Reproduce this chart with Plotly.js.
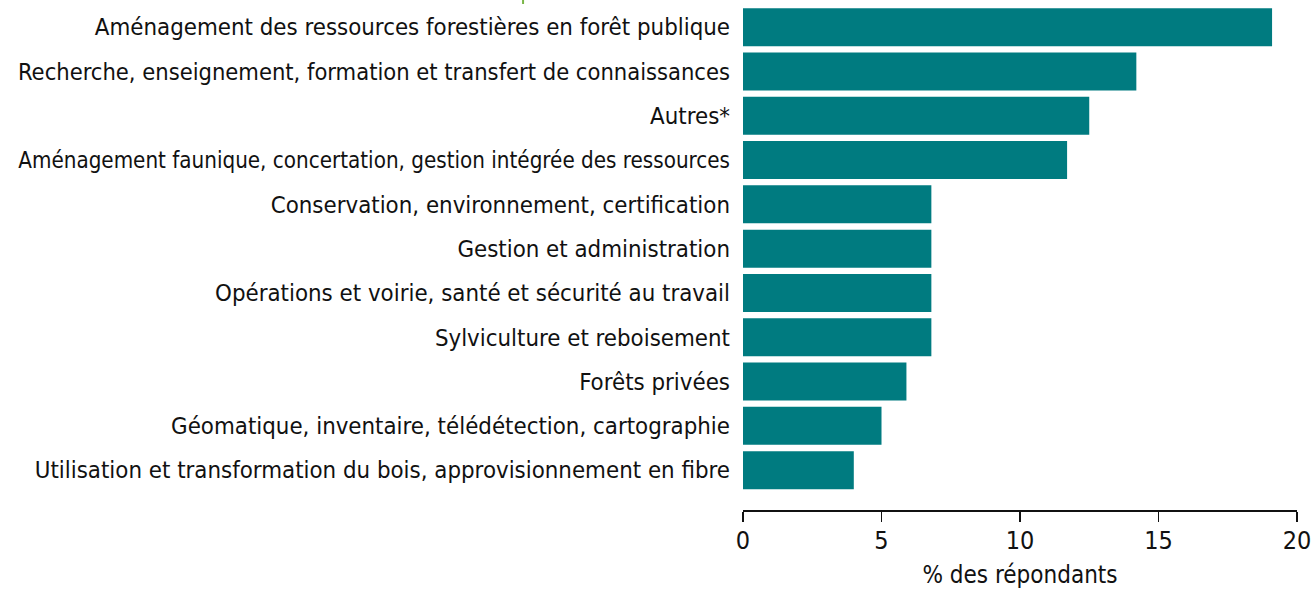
<!DOCTYPE html>
<html>
<head>
<meta charset="utf-8">
<script src="https://cdn.plot.ly/plotly-3.0.1.min.js"></script>
<style>html,body{margin:0;padding:0;background:#fff;}#chart{width:1311px;height:589px;}</style>
</head>
<body>
<div id="chart"></div>
<script>
const categories = [
  "Aménagement des ressources forestières en forêt publique",
  "Recherche, enseignement, formation et transfert de connaissances",
  "Autres*",
  "Aménagement faunique, concertation, gestion intégrée des ressources",
  "Conservation, environnement, certification",
  "Gestion et administration",
  "Opérations et voirie, santé et sécurité au travail",
  "Sylviculture et reboisement",
  "Forêts privées",
  "Géomatique, inventaire, télédétection, cartographie",
  "Utilisation et transformation du bois, approvisionnement en fibre"
];
const values = [19.1, 14.2, 12.5, 11.7, 6.8, 6.8, 6.8, 6.8, 5.9, 5.0, 4.0];
const xTicks = [0, 5, 10, 15, 20];
const xTitle = "% des répondants";

const FONT = '"DejaVu Sans Condensed", "DejaVu Sans", sans-serif';
const LABEL_SIZE = 23.8;
const MAX_LABEL_W = 712;

// shrink only labels that would not fit in the left margin
const ctx = document.createElement('canvas').getContext('2d');
ctx.font = LABEL_SIZE + 'px "DejaVu Sans Condensed"';
const tickText = categories.map(c => {
  const w = ctx.measureText(c).width;
  if (w > MAX_LABEL_W) {
    const s = (LABEL_SIZE * MAX_LABEL_W / w).toFixed(2);
    return '<span style="font-size:' + s + 'px">' + c + '</span>';
  }
  return c;
});

const trace = {
  type: 'bar',
  orientation: 'h',
  x: values,
  y: categories,
  marker: {color: '#007b80'},
  hoverinfo: 'x+y'
};

const layout = {
  width: 1311,
  height: 589,
  margin: {l: 743, r: 14, t: 5, b: 79, pad: 0},
  paper_bgcolor: '#ffffff',
  plot_bgcolor: '#ffffff',
  font: {family: FONT, size: 24, color: '#111111'},
  bargap: 0.142,
  showlegend: false,
  xaxis: {
    range: [0, 20],
    tickvals: xTicks,
    ticktext: xTicks.map(String),
    showgrid: false,
    zeroline: false,
    showline: true,
    linecolor: '#111111',
    linewidth: 1.5,
    ticks: 'outside',
    ticklen: 10,
    tickwidth: 1.5,
    tickcolor: '#111111',
    ticklabeloverflow: 'allow',
    ticklabelstandoff: -3,
    tickfont: {family: FONT, size: 25, color: '#111111'},
    title: {text: xTitle, font: {family: FONT, size: 24, color: '#111111'}, standoff: 13},
    fixedrange: true
  },
  yaxis: {
    type: 'category',
    categoryorder: 'array',
    categoryarray: categories,
    tickvals: categories,
    ticktext: tickText,
    range: [10.9, -0.5],
    showgrid: false,
    zeroline: false,
    showline: false,
    ticks: '',
    ticklabelstandoff: 12,
    tickfont: {family: FONT, size: LABEL_SIZE, color: '#111111'},
    fixedrange: true
  },
  shapes: [{
    type: 'line', xref: 'paper', yref: 'paper',
    x0: -0.397, x1: -0.397, y0: 1.002, y1: 1.012,
    line: {color: '#7ab648', width: 2}
  }]
};

Plotly.newPlot('chart', [trace], layout, {displayModeBar: false, staticPlot: true});
</script>
</body>
</html>
